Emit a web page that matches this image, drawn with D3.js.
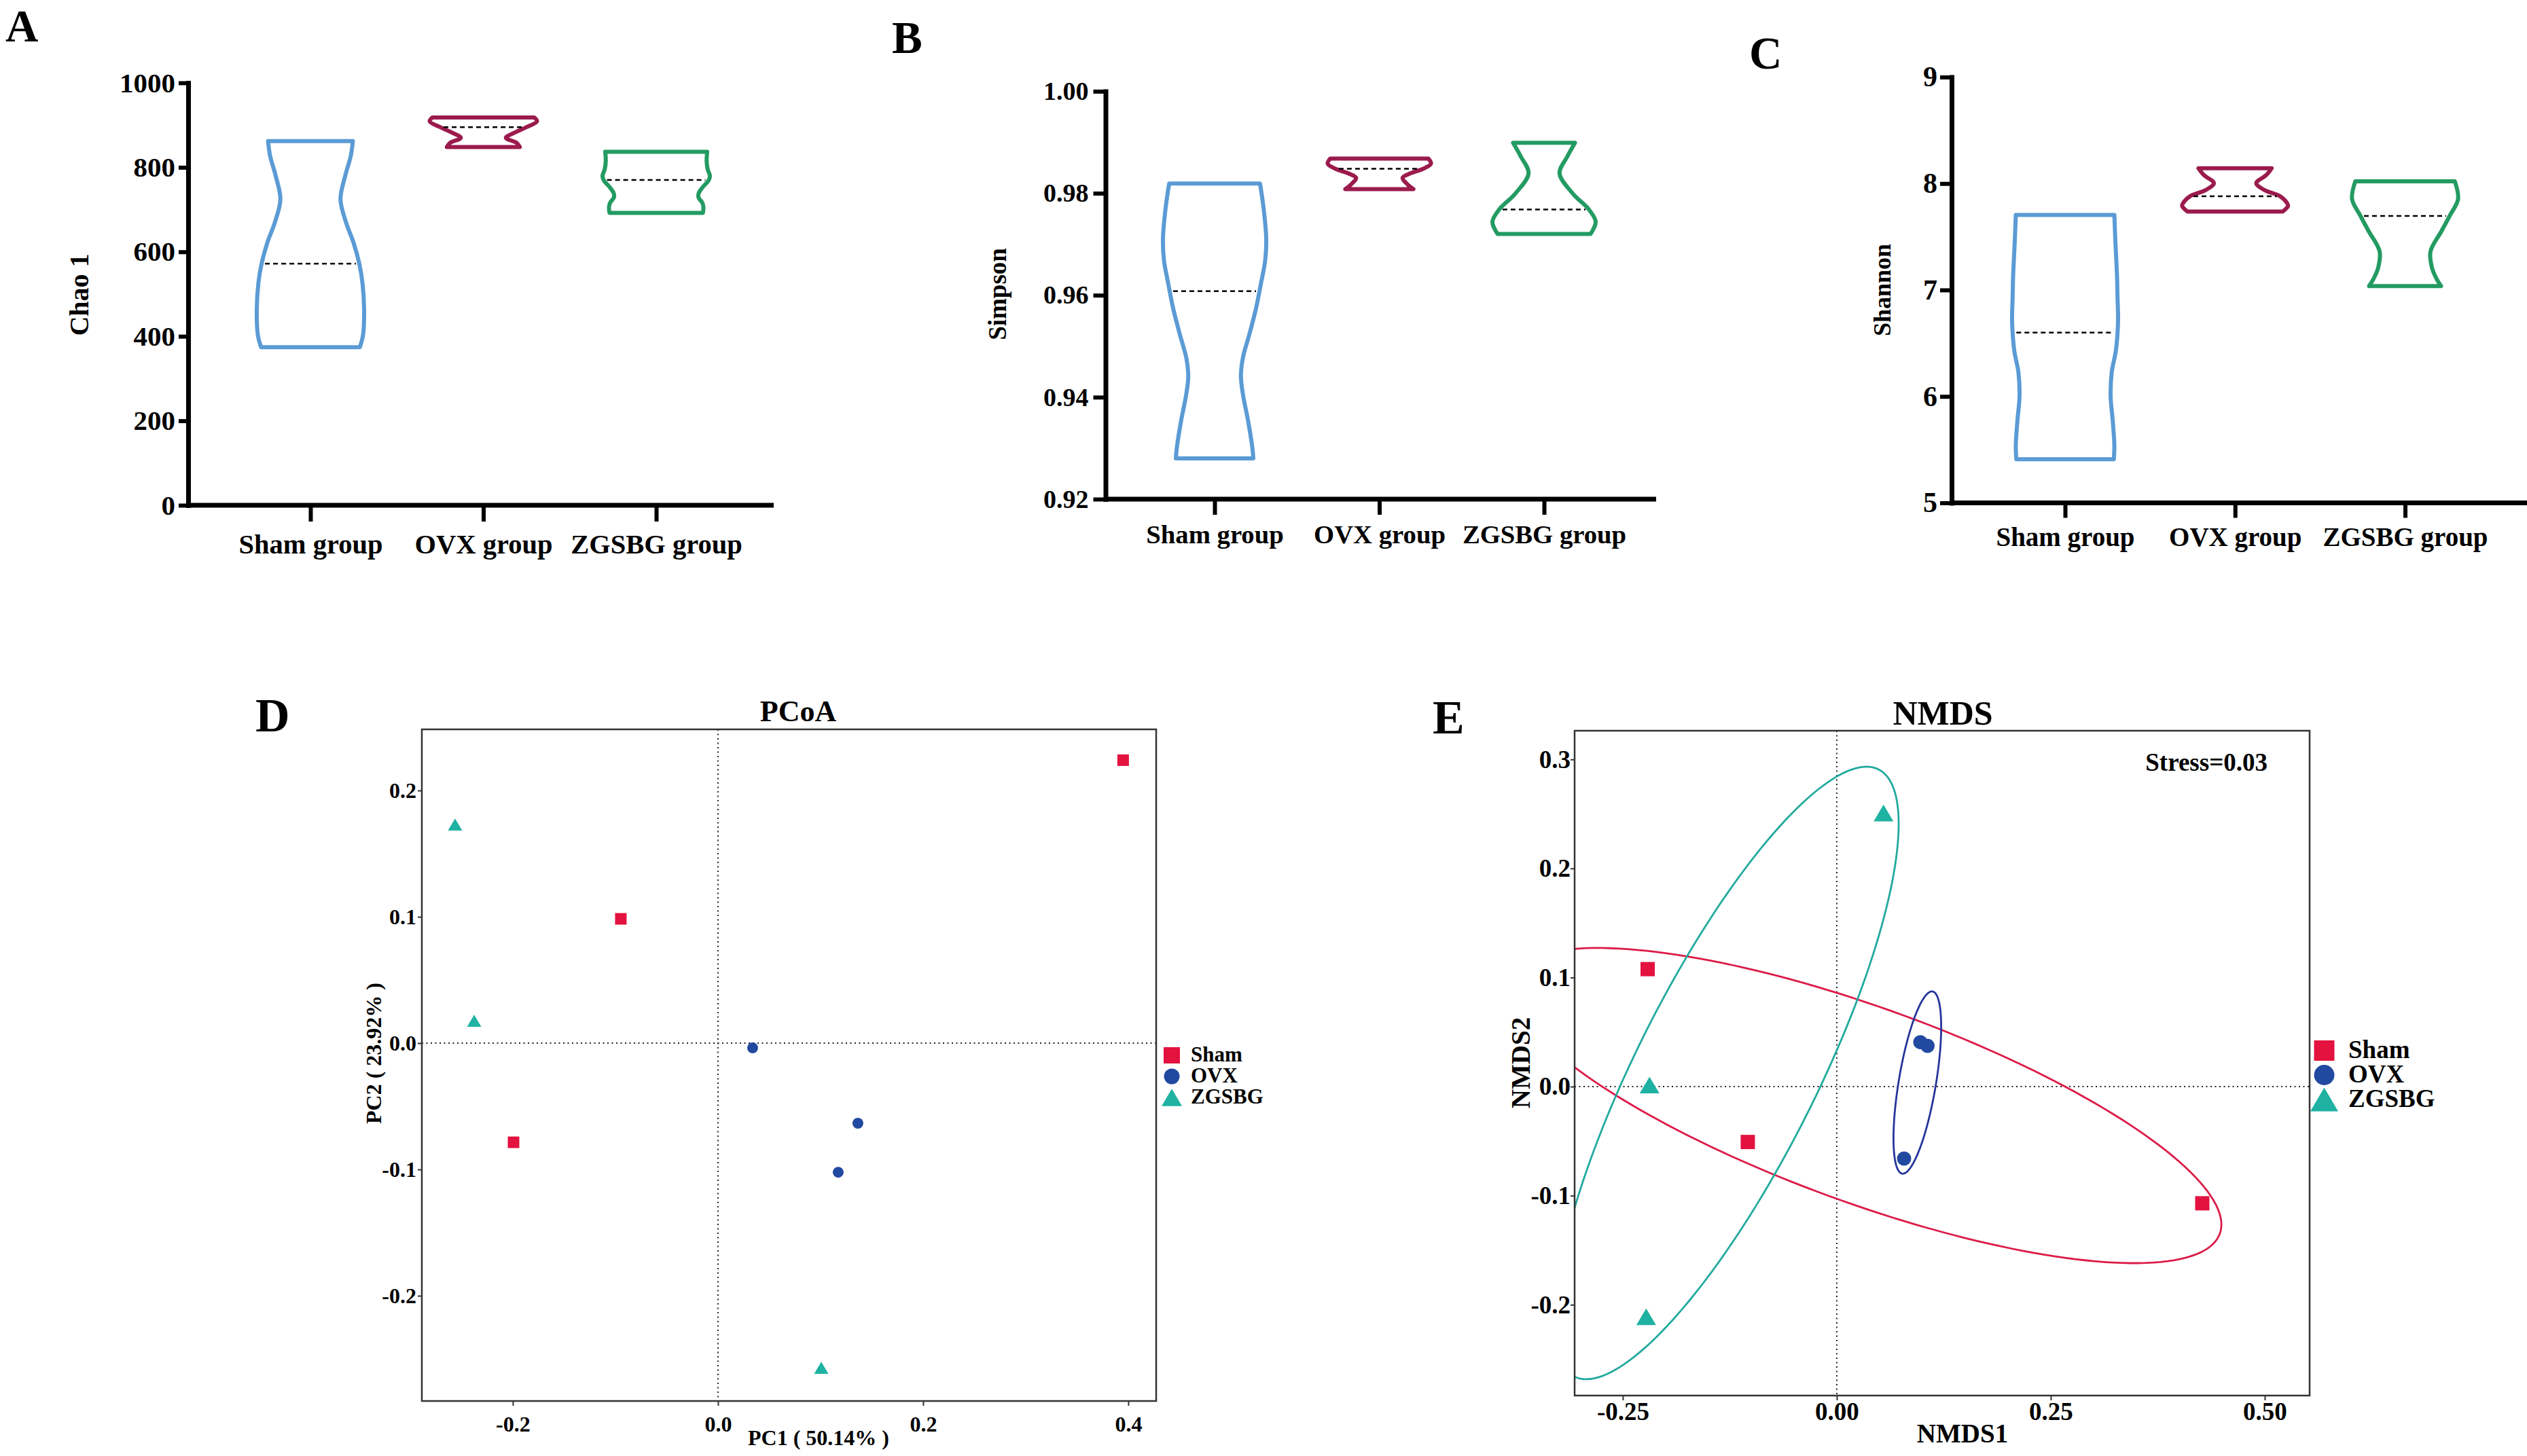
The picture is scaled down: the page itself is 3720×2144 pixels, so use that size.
<!DOCTYPE html>
<html>
<head>
<meta charset="utf-8">
<script src="https://cdn.jsdelivr.net/npm/d3@7"></script>
<style>
  body { margin: 0; background: #fff; }
  svg text { font-family: "Liberation Serif", "Times New Roman", serif; font-weight: bold; fill: #000; }
</style>
</head>
<body>
<svg id="chart" width="3720" height="2144"></svg>
<script>
// ---- data ----
const groups = ["Sham group", "OVX group", "ZGSBG group"];
const legendNames = ["Sham", "OVX", "ZGSBG"];

// violin outlines: [value, relative width]
const chaoSham = [[862,0.79],[826,0.75],[781,0.65],[724,0.56],[667,0.67],[623,0.80],[572,0.91],[526,0.97],[464,1.0],[403,0.98],[374,0.92]];
const chaoOvx = [[918,0.95],[909,1.0],[896,0.82],[882,0.58],[870,0.42],[858,0.62],[848,0.68]];
const chaoZgsbg = [[837,0.95],[815,0.94],[795,0.96],[780,1.0],[770,0.98],[752,0.86],[738,0.79],[728,0.79],[716,0.86],[705,0.88],[692,0.87]];
const chaoMedians = [572, 895, 770];
const chaoTicks = [0, 200, 400, 600, 800, 1000];

const simpsonSham = [[0.9819,0.88],[0.9770,0.95],[0.9711,1.0],[0.9668,0.98],[0.9624,0.90],[0.9573,0.80],[0.9522,0.67],[0.9478,0.55],[0.9441,0.51],[0.9405,0.55],[0.9353,0.65],[0.9302,0.73],[0.9280,0.75]];
const simpsonOvx = [[0.9868,0.95],[0.9858,1.0],[0.9848,0.85],[0.9839,0.60],[0.9830,0.45],[0.9817,0.55],[0.9808,0.66]];
const simpsonZgsbg = [[0.9899,0.60],[0.9872,0.45],[0.9839,0.30],[0.9799,0.56],[0.9768,0.87],[0.9744,1.0],[0.9720,0.90]];
const simpsonMedians = [0.9608, 0.9848, 0.9768];
const simpsonTicks = [0.92, 0.94, 0.96, 0.98, 1.00];

const shannonSham = [[7.705,0.93],[7.45,0.95],[7.135,0.98],[6.925,0.99],[6.715,1.0],[6.435,0.96],[6.225,0.88],[5.997,0.86],[5.77,0.90],[5.54,0.93],[5.41,0.92]];
const shannonOvx = [[8.143,0.69],[8.08,0.59],[8.003,0.40],[7.94,0.55],[7.88,0.85],[7.817,0.98],[7.79,1.0],[7.737,0.90]];
const shannonZgsbg = [[8.02,0.94],[7.853,1.0],[7.695,0.84],[7.555,0.69],[7.362,0.48],[7.205,0.51],[7.1,0.60],[7.037,0.68]];
const shannonMedians = [6.60, 7.88, 7.695];
const shannonTicks = [5, 6, 7, 8, 9];

// ordination scores [x, y]
const pcoaSham = [[0.395,0.224],[-0.0947,0.0984],[-0.1993,-0.0785]];
const pcoaOvx = [[0.0338,-0.0038],[0.1364,-0.0634],[0.1172,-0.1022]];
const pcoaZgsbg = [[-0.2563,0.1731],[-0.2377,0.0177],[0.1007,-0.257]];
const pcoaXTicks = [-0.2, 0, 0.2, 0.4];
const pcoaYTicks = [-0.2, -0.1, 0, 0.1, 0.2];

const nmdsSham = [[-0.221,0.1077],[-0.104,-0.0508],[0.427,-0.107]];
const nmdsOvx = [[0.0976,0.0407],[0.106,0.0374],[0.0786,-0.066]];
const nmdsZgsbg = [[0.0546,0.2509],[-0.2188,0.0014],[-0.2227,-0.2111]];
const nmdsXTicks = [-0.25, 0, 0.25, 0.5];
const nmdsYTicks = [-0.2, -0.1, 0, 0.1, 0.2, 0.3];
// group ellipses: centre x, centre y, x spread, y spread, correlation
const nmdsEllipses = [[0.034,-0.0174,0.4153,0.1445,-0.755],[0.0941,0.0037,0.02785,0.08356,0.611],[-0.129,0.0125,0.2013,0.2808,0.813]];

// ---- styles ----
const violinColors = ["#5b9bd5", "#9b1b4d", "#239b62"];
const pointColors = ["#e3123f", "#2249a0", "#1fb2a2"];
const ellipseColors = ["#dc1b48", "#26359c", "#22aa9e"];

const svg = d3.select("#chart");

function styleText(sel, size) {
  sel.selectAll("text")
    .attr("font-size", size)
    .attr("font-family", "'Liberation Serif','Times New Roman',serif")
    .attr("font-weight", "bold")
    .attr("fill", "#000");
}

function label(g, txt, x, y, size, anchor, rotate) {
  const t = g.append("text").text(txt).attr("font-size", size).attr("text-anchor", anchor || "start");
  if (rotate) t.attr("transform", `translate(${x},${y}) rotate(-90)`);
  else t.attr("x", x).attr("y", y);
  return t;
}

// violin panel
function violinPanel(o) {
  const g = svg.append("g");
  const y = d3.scaleLinear().domain(o.domain).range([o.bottom, o.top]);
  const x = d3.scalePoint().domain(groups).range([o.firstX, o.lastX]);
  const w = d3.scaleLinear().domain([0, 1]).range([0, o.halfWidth]);

  o.profiles.forEach((prof, i) => {
    const cx = x(groups[i]);
    const area = d3.area().curve(d3.curveCatmullRom.alpha(0.5))
      .y(d => y(d[0]))
      .x0(d => cx - w(d[1]))
      .x1(d => cx + w(d[1]));
    g.append("path")
      .attr("d", area(prof))
      .attr("fill", "none")
      .attr("stroke", violinColors[i])
      .attr("stroke-width", 6)
      .attr("stroke-linejoin", "round");

    const sorted = prof.slice().sort((a, b) => a[0] - b[0]);
    const widthAt = d3.scaleLinear().domain(sorted.map(d => d[0])).range(sorted.map(d => w(d[1])));
    const m = o.medians[i];
    const hw = widthAt(m) - 5;
    g.append("line")
      .attr("x1", cx - hw).attr("x2", cx + hw)
      .attr("y1", y(m)).attr("y2", y(m))
      .attr("stroke", "#000").attr("stroke-width", 2.5)
      .attr("stroke-dasharray", "7,5");
  });

  const ya = g.append("g").attr("transform", `translate(${o.left},0)`)
    .call(d3.axisLeft(y).tickValues(o.ticks).tickFormat(o.format)
      .tickSize(o.tickLen).tickSizeOuter(0).tickPadding(o.pad));
  ya.select(".domain").attr("stroke", "#000").attr("stroke-width", 7).attr("stroke-linecap", "square");
  ya.selectAll(".tick line").attr("stroke", "#000").attr("stroke-width", 6);
  styleText(ya, o.tickFont);

  g.append("line")
    .attr("x1", o.left).attr("x2", o.right)
    .attr("y1", o.bottom).attr("y2", o.bottom)
    .attr("stroke", "#000").attr("stroke-width", 7);

  const xa = g.append("g").attr("transform", `translate(0,${o.bottom})`)
    .call(d3.axisBottom(x).tickSize(o.catTick).tickPadding(o.catPad));
  xa.select(".domain").remove();
  xa.selectAll(".tick line").attr("stroke", "#000").attr("stroke-width", 6);
  styleText(xa, o.catFont);

  label(g, o.title, o.titleX, o.titleY, o.titleFont, "middle", true);
  label(g, o.letter, o.letterX, o.letterY, 67);
}

// ordination panel
const triangle = {
  draw(context, size) {
    const s = Math.sqrt(size), h = s * 0.85;
    context.moveTo(0, -h / 2);
    context.lineTo(s / 2, h / 2);
    context.lineTo(-s / 2, h / 2);
    context.closePath();
  }
};
const symbolTypes = [d3.symbolSquare, d3.symbolCircle, triangle];
function symbolArea(i, s) {
  return i === 1 ? Math.PI * (s / 2) * (s / 2) : s * s;
}

function ordinationPanel(o) {
  const g = svg.append("g");
  const x = d3.scaleLinear().domain(o.xDomain).range([o.left, o.right]);
  const y = d3.scaleLinear().domain(o.yDomain).range([o.bottom, o.top]);

  const clipId = "clip" + o.letter;
  g.append("clipPath").attr("id", clipId).append("rect")
    .attr("x", o.left).attr("y", o.top)
    .attr("width", o.right - o.left).attr("height", o.bottom - o.top);
  const plot = g.append("g").attr("clip-path", `url(#${clipId})`);

  plot.append("line").attr("x1", x(0)).attr("x2", x(0)).attr("y1", o.top).attr("y2", o.bottom)
    .attr("stroke", "#222").attr("stroke-width", 2).attr("stroke-dasharray", "2,4.5");
  plot.append("line").attr("x1", o.left).attr("x2", o.right).attr("y1", y(0)).attr("y2", y(0))
    .attr("stroke", "#222").attr("stroke-width", 2).attr("stroke-dasharray", "2,4.5");

  if (o.ellipses) {
    const line = d3.line().curve(d3.curveLinearClosed);
    o.ellipses.forEach((e, i) => {
      const [cx, cy, sx, sy, rho] = e;
      const pts = d3.range(0, 360, 2).map(a => {
        const t = a * Math.PI / 180;
        return [x(cx + sx * Math.cos(t)),
                y(cy + sy * (rho * Math.cos(t) + Math.sqrt(1 - rho * rho) * Math.sin(t)))];
      });
      plot.append("path").attr("d", line(pts))
        .attr("fill", "none").attr("stroke", ellipseColors[i]).attr("stroke-width", 2.8);
    });
  }

  o.series.forEach((pts, i) => {
    const sym = d3.symbol().type(symbolTypes[i]).size(symbolArea(i, o.marks[i]));
    plot.selectAll(null).data(pts).enter().append("path")
      .attr("d", sym)
      .attr("transform", d => `translate(${x(d[0])},${y(d[1])})`)
      .attr("fill", pointColors[i]);
  });

  g.append("rect")
    .attr("x", o.left).attr("y", o.top)
    .attr("width", o.right - o.left).attr("height", o.bottom - o.top)
    .attr("fill", "none").attr("stroke", "#333").attr("stroke-width", 2.5);

  const xa = g.append("g").attr("transform", `translate(0,${o.bottom})`)
    .call(d3.axisBottom(x).tickValues(o.xTicks).tickFormat(o.xFormat).tickSize(7).tickPadding(o.xPad));
  xa.select(".domain").remove();
  xa.selectAll(".tick line").attr("stroke", "#333").attr("stroke-width", 2);
  styleText(xa, o.tickFont);

  const ya = g.append("g").attr("transform", `translate(${o.left},0)`)
    .call(d3.axisLeft(y).tickValues(o.yTicks).tickFormat(o.yFormat).tickSize(6).tickPadding(o.yPad));
  ya.select(".domain").remove();
  ya.selectAll(".tick line").attr("stroke", "#333").attr("stroke-width", 2);
  styleText(ya, o.tickFont);

  label(g, o.title, o.titleX, o.titleY, o.titleFont, "middle");
  label(g, o.xTitle, o.xTitleX, o.xTitleY, o.axisFont, "middle");
  label(g, o.yTitle, o.yTitleX, o.yTitleY, o.axisFont, "middle", true);
  label(g, o.letter, o.letterX, o.letterY, 70);
  if (o.note) label(g, o.note, o.noteX, o.noteY, o.noteFont, "end");

  // legend
  legendNames.forEach((name, i) => {
    const ry = o.legendY + i * o.legendStep;
    const sym = d3.symbol().type(symbolTypes[i]).size(symbolArea(i, o.legendMarks[i]));
    g.append("path").attr("d", sym)
      .attr("transform", `translate(${o.legendX},${ry})`)
      .attr("fill", pointColors[i]);
    label(g, name, o.legendTextX, ry + o.legendFont * 0.29, o.legendFont);
  });
}

const fmt = n => d => d.toFixed(n);

violinPanel({
  letter: "A", letterX: 8, letterY: 61,
  profiles: [chaoSham, chaoOvx, chaoZgsbg], medians: chaoMedians,
  domain: [0, 1000], ticks: chaoTicks, format: d => d,
  top: 122, bottom: 744, left: 277, right: 1139, firstX: 457, lastX: 966,
  halfWidth: 79, tickLen: 14, pad: 5, tickFont: 41,
  catTick: 24, catPad: 18, catFont: 40.5,
  title: "Chao 1", titleX: 130, titleY: 434, titleFont: 40
});

violinPanel({
  letter: "B", letterX: 1313, letterY: 78,
  profiles: [simpsonSham, simpsonOvx, simpsonZgsbg], medians: simpsonMedians,
  domain: [0.92, 1.0], ticks: simpsonTicks, format: fmt(2),
  top: 134.4, bottom: 735, left: 1627.5, right: 2438, firstX: 1788, lastX: 2273,
  halfWidth: 76, tickLen: 18, pad: 7, tickFont: 38,
  catTick: 23, catPad: 15, catFont: 38.7,
  title: "Simpson", titleX: 1481, titleY: 433, titleFont: 37
});

violinPanel({
  letter: "C", letterX: 2575, letterY: 101,
  profiles: [shannonSham, shannonOvx, shannonZgsbg], medians: shannonMedians,
  domain: [5, 9], ticks: shannonTicks, format: d => d,
  top: 113.5, bottom: 740.5, left: 2873, right: 3720, firstX: 3040, lastX: 3540.5,
  halfWidth: 78, tickLen: 17, pad: 4, tickFont: 42,
  catTick: 22, catPad: 14, catFont: 39,
  title: "Shannon", titleX: 2783, titleY: 427, titleFont: 36
});

ordinationPanel({
  letter: "D", letterX: 376, letterY: 1077,
  series: [pcoaSham, pcoaOvx, pcoaZgsbg], marks: [17, 16, 21],
  xDomain: [-0.2887, 0.4272], yDomain: [-0.2833, 0.2484],
  left: 621, right: 1702, top: 1074, bottom: 2063,
  xTicks: pcoaXTicks, yTicks: pcoaYTicks, xFormat: fmt(1), yFormat: fmt(1),
  xPad: 15, yPad: 2, tickFont: 32,
  title: "PCoA", titleX: 1175, titleY: 1062, titleFont: 44,
  xTitle: "PC1 ( 50.14% )", xTitleX: 1205, xTitleY: 2128,
  yTitle: "PC2 ( 23.92% )", yTitleX: 561, yTitleY: 1551, axisFont: 32,
  legendX: 1725, legendY: 1554, legendStep: 31, legendTextX: 1753, legendFont: 31,
  legendMarks: [24, 23, 30]
});

ordinationPanel({
  letter: "E", letterX: 2109, letterY: 1080,
  series: [nmdsSham, nmdsOvx, nmdsZgsbg], marks: [21, 21, 29],
  ellipses: nmdsEllipses,
  xDomain: [-0.3063, 0.5524], yDomain: [-0.2833, 0.3263],
  left: 2318, right: 3400, top: 1076, bottom: 2055,
  xTicks: nmdsXTicks, yTicks: nmdsYTicks, xFormat: fmt(2), yFormat: fmt(1),
  xPad: 3, yPad: 0, tickFont: 37,
  title: "NMDS", titleX: 2860, titleY: 1067, titleFont: 50,
  xTitle: "NMDS1", xTitleX: 2889, xTitleY: 2124,
  yTitle: "NMDS2", yTitleX: 2252, yTitleY: 1565, axisFont: 39,
  note: "Stress=0.03", noteX: 3338, noteY: 1135, noteFont: 37,
  legendX: 3421.5, legendY: 1547, legendStep: 36, legendTextX: 3457, legendFont: 37,
  legendMarks: [30, 30, 41]
});
</script>
</body>
</html>
